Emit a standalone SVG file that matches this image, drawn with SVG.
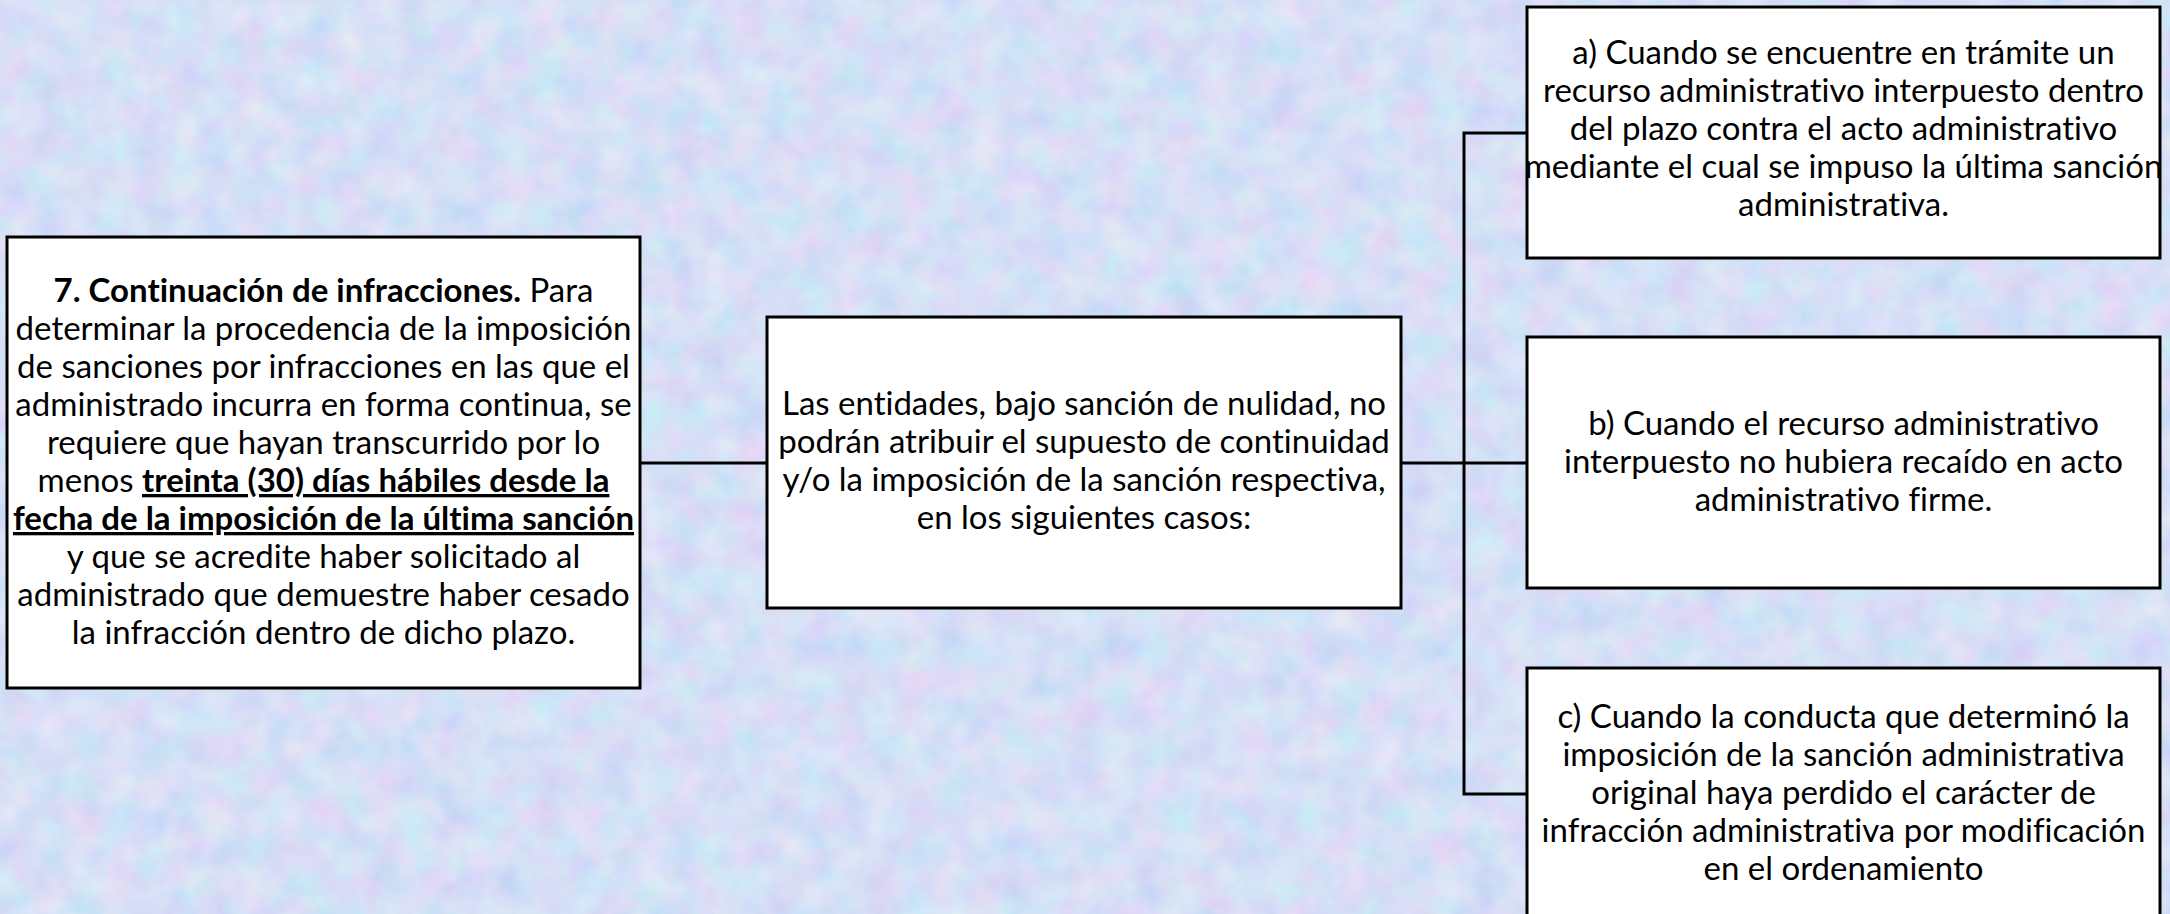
<svg xmlns="http://www.w3.org/2000/svg" width="2170" height="914" viewBox="0 0 2170 914">
<style>
.box{fill:#ffffff;stroke:#000000;stroke-width:3}
.t{font-family:Lato,"Open Sans","Liberation Sans",sans-serif;font-size:33px;fill:#000000;text-anchor:middle;font-variant-ligatures:none;font-feature-settings:"liga" 0,"clig" 0}
.b{font-weight:bold}
.u{text-decoration:underline}
.conn{stroke:#000000;stroke-width:3;fill:none}
</style>
<defs>
<filter id="tex" x="0" y="0" width="100%" height="100%">
<feTurbulence type="fractalNoise" baseFrequency="0.03" numOctaves="3" seed="7" result="n"/>
<feColorMatrix in="n" type="matrix" values="0.36 0 0 0 0.49  0 0.26 0 0 0.61  0 0 0.08 0 0.88  0 0 0 0 1"/>
</filter>
</defs>
<rect x="0" y="0" width="2170" height="914" fill="#bcd0f0"/>
<rect x="0" y="0" width="2170" height="914" filter="url(#tex)"/>

<g id="connectors">
<line class="conn" x1="640" y1="463" x2="767" y2="463"/>
<line class="conn" x1="1401" y1="463" x2="1527" y2="463"/>
<polyline class="conn" points="1527,133 1464,133 1464,794 1527,794"/>
</g>

<g id="node-main">
<rect class="box" x="7" y="237" width="633" height="451"/>
<text class="t" x="323.5" y="302"><tspan class="b">7. Continuación de infracciones.</tspan> Para</text>
<text class="t" x="323.5" y="340">determinar la procedencia de la imposición</text>
<text class="t" x="323.5" y="378">de sanciones por infracciones en las que el</text>
<text class="t" x="323.5" y="416">administrado incurra en forma continua, se</text>
<text class="t" x="323.5" y="454">requiere que hayan transcurrido por lo</text>
<text class="t" x="323.5" y="492">menos <tspan class="b u">treinta (30) días hábiles desde la</tspan></text>
<text class="t b u" x="323.5" y="530">fecha de la imposición de la última sanción</text>
<text class="t" x="323.5" y="568">y que se acredite haber solicitado al</text>
<text class="t" x="323.5" y="606">administrado que demuestre haber cesado</text>
<text class="t" x="323.5" y="644">la infracción dentro de dicho plazo.</text>
</g>

<g id="node-entidades">
<rect class="box" x="767" y="317" width="634" height="291"/>
<text class="t" x="1084" y="415">Las entidades, bajo sanción de nulidad, no</text>
<text class="t" x="1084" y="453">podrán atribuir el supuesto de continuidad</text>
<text class="t" x="1084" y="491">y/o la imposición de la sanción respectiva,</text>
<text class="t" x="1084" y="529">en los siguientes casos:</text>
</g>

<g id="node-a">
<rect class="box" x="1527" y="7" width="633" height="251"/>
<text class="t" x="1843.5" y="64">a) Cuando se encuentre en trámite un</text>
<text class="t" x="1843.5" y="102">recurso administrativo interpuesto dentro</text>
<text class="t" x="1843.5" y="140">del plazo contra el acto administrativo</text>
<text class="t" x="1843.5" y="178">mediante el cual se impuso la última sanción</text>
<text class="t" x="1843.5" y="216">administrativa.</text>
</g>

<g id="node-b">
<rect class="box" x="1527" y="337" width="633" height="251"/>
<text class="t" x="1843.5" y="435">b) Cuando el recurso administrativo</text>
<text class="t" x="1843.5" y="473">interpuesto no hubiera recaído en acto</text>
<text class="t" x="1843.5" y="511">administrativo firme.</text>
</g>

<g id="node-c">
<rect class="box" x="1527" y="668" width="633" height="252"/>
<text class="t" x="1843.5" y="728">c) Cuando la conducta que determinó la</text>
<text class="t" x="1843.5" y="766">imposición de la sanción administrativa</text>
<text class="t" x="1843.5" y="804">original haya perdido el carácter de</text>
<text class="t" x="1843.5" y="842">infracción administrativa por modificación</text>
<text class="t" x="1843.5" y="880">en el ordenamiento</text>
</g>
</svg>
